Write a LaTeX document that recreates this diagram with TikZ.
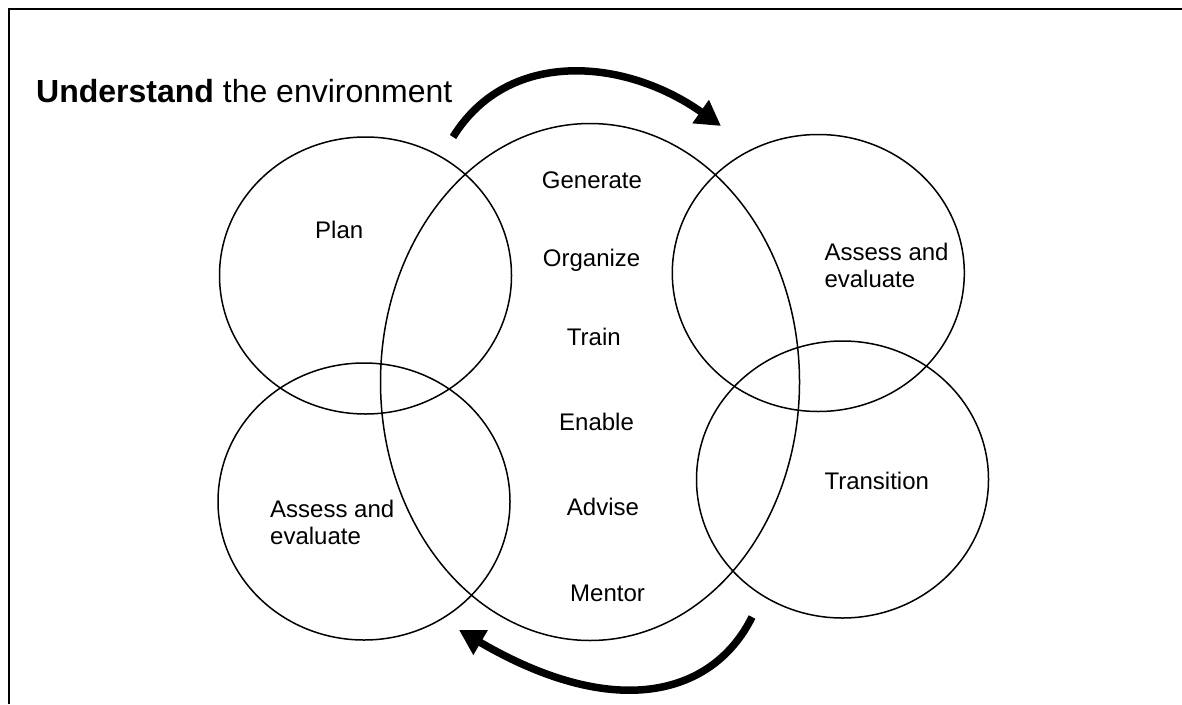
\documentclass[tikz,border=0pt]{standalone}
\usepackage{fontspec}
\setmainfont{Liberation Sans}
\usetikzlibrary{shapes.geometric, arrows.meta}
\tikzstyle{bubble} = [ellipse, draw=black, line width=1.5pt, minimum width=292pt, minimum height=277pt, inner sep=0pt]
\tikzstyle{core} = [ellipse, draw=black, line width=1.5pt, minimum width=419pt, minimum height=517pt, inner sep=0pt]
\tikzstyle{word} = [anchor=base west, inner sep=0pt, font=\fontsize{24}{27}\selectfont]
\tikzstyle{pair} = [anchor=north west, inner sep=0pt, align=left, font=\fontsize{24}{27}\selectfont]
\tikzstyle{heading} = [anchor=base west, inner sep=0pt, font=\fontsize{32}{36}\selectfont]
\tikzstyle{frame} = [line width=2pt]
\tikzstyle{arrow} = [line width=7.5pt, -{Triangle[length=25pt,width=27pt]}]

\begin{document}
\begin{tikzpicture}[x=1pt, y=-1pt]
    \useasboundingbox (0,0) rectangle (1182,704);

    \coordinate (frame_bottom) at (8.5,704);
    \coordinate (frame_right) at (1182,8.5);
    \draw [frame] (frame_bottom) |- (frame_right);

    \node (plan) [bubble] at (365.5,275.5) {};
    \node (assess_left) [bubble] at (364,501.5) {};
    \node (assess_right) [bubble] at (818.3,273) {};
    \node (transition) [bubble] at (842.5,479.5) {};
    \node (centre) [core] at (590,382) {};

    \node (heading) [heading] at (36,102) {\textbf{Understand} the environment};

    \node (plan_text) [word] at (315,238.3) {Plan};
    \node (assess_left_text) [pair] at (270,499.5) {Assess and\\evaluate};
    \node (assess_right_text) [pair] at (824.3,242.8) {Assess and\\evaluate};
    \node (transition_text) [word] at (824.3,489.3) {Transition};

    \node (generate) [word] at (541.7,188) {Generate};
    \node (organize) [word] at (542.7,266.7) {Organize};
    \node (train) [word] at (566.7,345) {Train};
    \node (enable) [word] at (559,430) {Enable};
    \node (advise) [word] at (566.7,515) {Advise};
    \node (mentor) [word] at (570,601.7) {Mentor};

    \coordinate (top_start) at (453,137);
    \coordinate (top_end) at (721,126);
    \coordinate (low_start) at (752,617);
    \coordinate (low_end) at (459,630);

    \draw [arrow] (top_start) .. controls (508,48) and (625,58) .. (top_end);
    \draw [arrow] (low_start) .. controls (715,692) and (620,724) .. (low_end);
\end{tikzpicture}
\end{document}
